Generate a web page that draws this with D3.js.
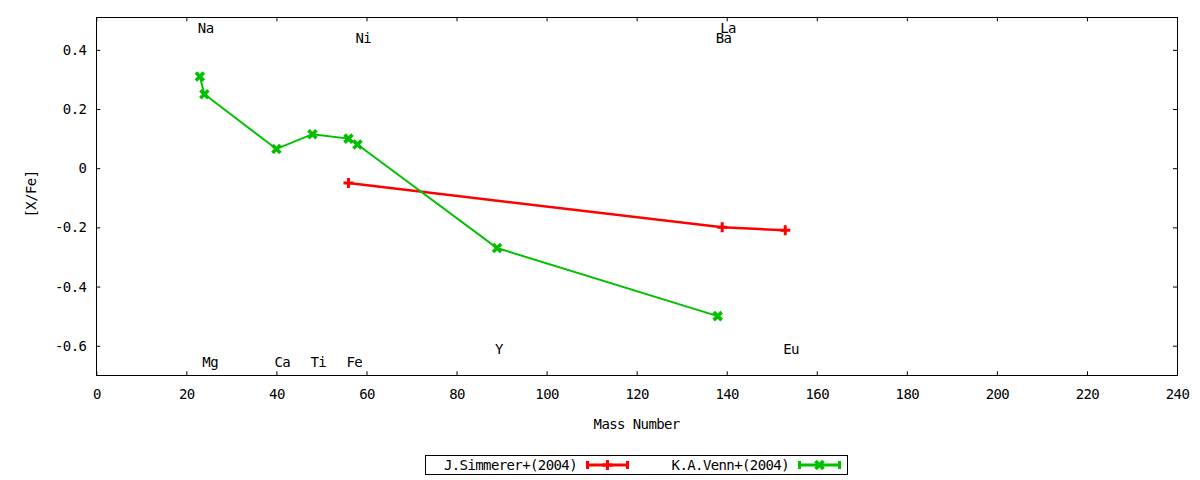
<!DOCTYPE html>
<html lang="en">
<head>
  <meta charset="UTF-8">
  <title>[X/Fe] vs Mass Number</title>
  <script src="https://d3js.org/d3.v7.min.js"></script>
  <style>
    body { margin: 0; background: #fff; }
    text { font-family: "DejaVu Sans Mono", monospace; font-size: 14px; letter-spacing: -0.6px; fill: #000; }
  </style>
</head>
<body>
  <div id="chart"></div>

  <script>
    // data
    const simmererMass = [56, 139, 153];
    const simmererXFe = [-0.05, -0.20, -0.21];

    const vennMass = [23, 24, 40, 48, 56, 58, 89, 138];
    const vennXFe = [0.31, 0.25, 0.065, 0.115, 0.10, 0.08, -0.27, -0.50];

    const elementNames = ["Na", "Ni", "La", "Ba", "Mg", "Ca", "Ti", "Fe", "Y", "Eu"];
    const elementMass = [23, 58, 139, 138, 24, 40, 48, 56, 89, 153];
    const elementLabelY = [0.475, 0.44, 0.475, 0.44, -0.655, -0.655, -0.655, -0.655, -0.61, -0.61];

    const xTicks = [0, 20, 40, 60, 80, 100, 120, 140, 160, 180, 200, 220, 240];
    const yTicks = [-0.6, -0.4, -0.2, 0, 0.2, 0.4];

    const seriesNames = ["J.Simmerer+(2004)", "K.A.Venn+(2004)"];

    const width = 1200, height = 480;
    const plotLeft = 96.3, plotRight = 1177, plotTop = 17.3, plotBottom = 375.3;

    const svg = d3.select("#chart").append("svg")
      .attr("width", width)
      .attr("height", height);

    const x = d3.scaleLinear().domain([0, 240]).range([plotLeft, plotRight]);
    const y = d3.scaleLinear().domain([-0.7, 0.51]).range([plotBottom, plotTop]);

    // axes with inward ticks, mirrored on top/right
    const tickLen = 4;
    svg.append("g")
      .attr("transform", `translate(0, ${plotBottom})`)
      .call(d3.axisBottom(x).tickValues(xTicks).tickFormat(d => String(d))
        .tickSize(-tickLen).tickPadding(14))
      .call(g => g.select(".domain").remove())
      .call(g => g.selectAll("text").attr("font-family", null).attr("font-size", null));

    svg.append("g")
      .attr("transform", `translate(0, ${plotTop})`)
      .call(d3.axisTop(x).tickValues(xTicks).tickFormat("").tickSize(-tickLen))
      .call(g => g.select(".domain").remove());

    svg.append("g")
      .attr("transform", `translate(${plotLeft}, 0)`)
      .call(d3.axisLeft(y).tickValues(yTicks).tickFormat(d => String(d))
        .tickSize(-tickLen).tickPadding(10))
      .call(g => g.select(".domain").remove())
      .call(g => g.selectAll("text").attr("font-family", null).attr("font-size", null));

    svg.append("g")
      .attr("transform", `translate(${plotRight}, 0)`)
      .call(d3.axisRight(y).tickValues(yTicks).tickFormat("").tickSize(-tickLen))
      .call(g => g.select(".domain").remove());

    svg.selectAll(".tick line").attr("stroke", "#000");

    // frame
    svg.append("rect")
      .attr("x", plotLeft).attr("y", plotTop)
      .attr("width", plotRight - plotLeft).attr("height", plotBottom - plotTop)
      .attr("fill", "none").attr("stroke", "#000").attr("stroke-width", 1)
      .attr("shape-rendering", "crispEdges");

    // axis titles
    svg.append("text")
      .attr("x", (plotLeft + plotRight) / 2).attr("y", 424).attr("dy", "0.36em")
      .attr("text-anchor", "middle")
      .text("Mass Number");

    svg.append("text")
      .attr("transform", "translate(31, 194) rotate(-90)")
      .attr("dy", "0.36em")
      .attr("text-anchor", "middle")
      .text("[X/Fe]");

    // element labels (La and Ba overlap in the original too)
    svg.selectAll(".elem")
      .data(elementNames)
      .enter()
      .append("text")
      .attr("class", "elem")
      .attr("x", (d, i) => x(elementMass[i]) - 2)
      .attr("y", (d, i) => y(elementLabelY[i]))
      .attr("dy", "0.36em")
      .text(d => d);

    const line = d3.line()
      .x(d => x(d[0]))
      .y(d => y(d[1]));

    const plusPath = "M-5,0H5M0,-5V5";
    const crossPath = "M-4,-4L4,4M-4,4L4,-4";

    const series = [
      { name: seriesNames[0], pts: d3.zip(simmererMass, simmererXFe), color: "#ff0000", lw: 2.5, marker: plusPath, mw: 3 },
      { name: seriesNames[1], pts: d3.zip(vennMass, vennXFe), color: "#00c000", lw: 2, marker: crossPath, mw: 3.6 }
    ];

    series.forEach(s => {
      svg.append("path")
        .attr("fill", "none")
        .attr("stroke", s.color)
        .attr("stroke-width", s.lw)
        .attr("d", line(s.pts));

      svg.selectAll(null)
        .data(s.pts)
        .enter()
        .append("path")
        .attr("transform", d => `translate(${x(d[0])}, ${y(d[1])})`)
        .attr("d", s.marker)
        .attr("fill", "none")
        .attr("stroke", s.color)
        .attr("stroke-width", s.mw);
    });

    // legend
    const legend = svg.append("g");
    legend.append("rect")
      .attr("x", 425.5).attr("y", 455.5)
      .attr("width", 422).attr("height", 19)
      .attr("fill", "none").attr("stroke", "#000")
      .attr("shape-rendering", "crispEdges");

    const legendTextEnd = [577, 789];
    series.forEach((s, i) => {
      const x0 = legendTextEnd[i] + 9, x1 = x0 + 43, cy = 465;
      legend.append("text")
        .attr("x", legendTextEnd[i]).attr("y", cy).attr("dy", "0.36em")
        .attr("text-anchor", "end")
        .text(s.name);
      legend.append("path")
        .attr("d", `M${x0},${cy}H${x1}M${x0 + 1.5},${cy - 4}V${cy + 4}M${x1 - 1.5},${cy - 4}V${cy + 4}`)
        .attr("stroke", s.color).attr("stroke-width", 3).attr("fill", "none");
      legend.append("path")
        .attr("transform", `translate(${(x0 + x1) / 2}, ${cy})`)
        .attr("d", s.marker)
        .attr("stroke", s.color).attr("stroke-width", s.mw).attr("fill", "none");
    });
  </script>
</body>
</html>
